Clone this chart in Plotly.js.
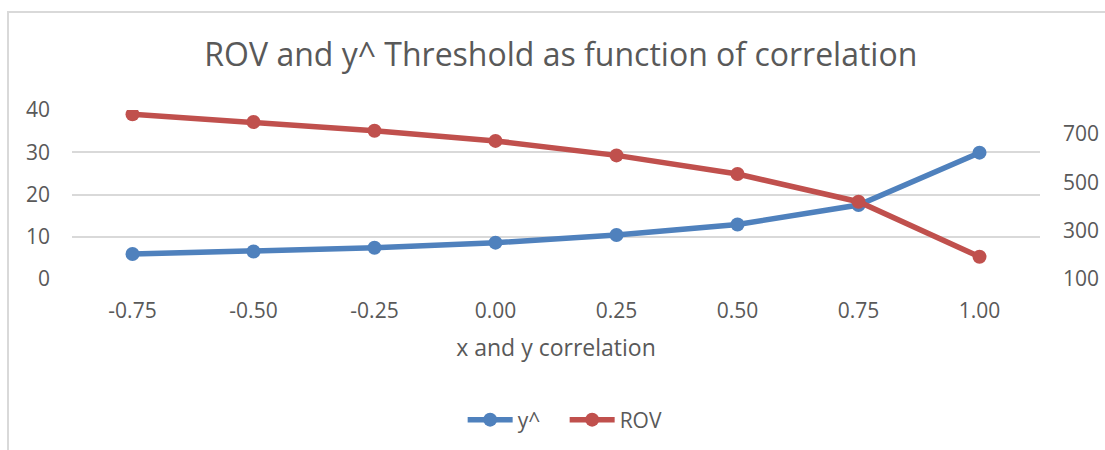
<!DOCTYPE html>
<html>
<head>
<meta charset="utf-8">
<script src="https://cdn.plot.ly/plotly-3.0.1.min.js"></script>
<style>
  html, body { margin: 0; padding: 0; background: #ffffff; }
  #wrap { position: relative; width: 1105px; height: 450px; overflow: hidden; }
  #chart { position: absolute; left: 0; top: 0; width: 1105px; height: 450px; }
  #frame { position: absolute; left: 7px; top: 11px; width: 1200px; height: 500px;
           border-left: 2px solid #d9d9d9; border-top: 2px solid #d9d9d9; pointer-events: none; }
</style>
</head>
<body>
<div id="wrap">
  <div id="chart"></div>
  <div id="frame"></div>
</div>
<script>
const categories = ["-0.75", "-0.50", "-0.25", "0.00", "0.25", "0.50", "0.75", "1.00"];
const yHat = [5.9, 6.5, 7.4, 8.6, 10.4, 12.9, 17.5, 29.9];
const rov = [782, 750, 714, 672, 612, 535, 420, 192];
const leftTicks = [0, 10, 20, 30, 40];
const rightTicks = [100, 300, 500, 700];

const textColor = "#595959";
const fontFam = "'Open Sans', 'Noto Sans', sans-serif";

const traces = [
  {
    x: categories, y: yHat, name: "y^", type: "scatter", mode: "lines+markers",
    line: { color: "#4f81bd", width: 5.5 },
    marker: { color: "#4f81bd", size: 14 },
    yaxis: "y"
  },
  {
    x: categories, y: rov, name: "ROV", type: "scatter", mode: "lines+markers",
    line: { color: "#c0504d", width: 5.5 },
    marker: { color: "#c0504d", size: 14 },
    yaxis: "y2"
  }
];

const layout = {
  width: 1105, height: 450,
  margin: { l: 72, r: 65, t: 110, b: 171 },
  paper_bgcolor: "#ffffff", plot_bgcolor: "#ffffff",
  font: { family: fontFam, color: textColor, size: 21 },
  showlegend: true,
  title: {
    text: "ROV and y^ Threshold as function of correlation",
    font: { family: fontFam, size: 32, color: textColor },
    x: 0.505, xref: "paper", xanchor: "center",
    y: 1 - 55 / 450, yref: "container", yanchor: "middle"
  },
  xaxis: {
    type: "category", range: [-0.5, 7.5],
    showgrid: false, zeroline: false,
    showline: false, ticks: "",
    ticklabelstandoff: 17,
    tickfont: { size: 21, color: textColor },
    title: { text: "x and y correlation", font: { size: 23, color: textColor }, standoff: 16 }
  },
  yaxis: {
    range: [0, 40], tickvals: leftTicks,
    showgrid: true, gridcolor: "#d9d9d9", gridwidth: 1.5,
    zeroline: false, showline: false, ticks: "",
    ticklabelstandoff: 21,
    tickfont: { size: 21, color: textColor }
  },
  yaxis2: {
    range: [100, 800], tickvals: rightTicks,
    overlaying: "y", side: "right",
    showgrid: false, zeroline: false, showline: false, ticks: "",
    ticklabelstandoff: 22,
    tickfont: { size: 21, color: textColor }
  },
  legend: {
    orientation: "h", xref: "container", yref: "container",
    x: 0.511, xanchor: "center", y: 1 - 420 / 450, yanchor: "middle",
    font: { size: 21, color: textColor },
    itemwidth: 45, entrywidth: 42, entrywidthmode: "pixels",
    bgcolor: "rgba(0,0,0,0)"
  }
};

Plotly.newPlot("chart", traces, layout, { displayModeBar: false, responsive: false });
</script>
</body>
</html>
